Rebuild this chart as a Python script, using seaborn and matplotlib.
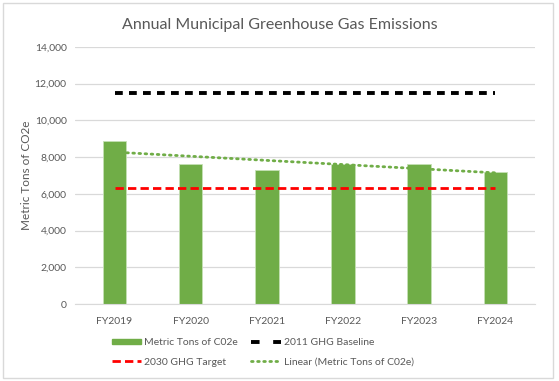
import numpy as np
import pandas as pd
import matplotlib
matplotlib.use("Agg")
import matplotlib.pyplot as plt
import seaborn as sns
from matplotlib.patches import Rectangle
from matplotlib.lines import Line2D
from matplotlib.patches import Patch

# -----------------------------
# Data
# -----------------------------
years = ["FY2019", "FY2020", "FY2021", "FY2022", "FY2023", "FY2024"]
emissions = [8850, 7630, 7300, 7620, 7640, 7200]
baseline_2011 = 11500
target_2030 = 6300

df = pd.DataFrame({"Year": years, "Emissions": emissions})

# -----------------------------
# Plot Settings
# -----------------------------
sns.set_style("white")
plt.rcParams["font.family"] = ["Lato", "DejaVu Sans"]

green = "#70AD47"
grey_txt = "#595959"

fig = plt.figure(figsize=(5.59, 3.81), dpi=100)
ax = fig.add_axes([0.134, 0.202, 0.823, 0.675])

sns.barplot(
    data=df,
    x="Year",
    y="Emissions",
    color=green,
    saturation=1,
    width=0.31,
    edgecolor="#C5E0B4",
    linewidth=0.6,
    ax=ax,
)

pos = np.arange(len(years))

# baseline / target lines
ax.plot(pos, [baseline_2011] * len(years), color="black", lw=2.8,
        linestyle=(0, (2.0, 1.6)))
ax.plot(pos, [target_2030] * len(years), color="#FF0000", lw=2.0,
        linestyle=(0, (3, 1.5)))

# linear trendline
coef = np.polyfit(pos, emissions, 1)
trend = np.polyval(coef, pos)
ax.plot(pos, trend, color=green, lw=2.0, linestyle=(0, (0.6, 1.6)),
        dash_capstyle="round")

# -----------------------------
# Axes formatting
# -----------------------------
ax.set_ylim(0, 14000)
ax.set_xlim(-0.52, len(years) - 0.48)
ax.set_yticks(range(0, 14001, 2000))
ax.set_yticklabels([f"{v:,}" for v in range(0, 14001, 2000)])
ax.yaxis.grid(True, color="#D9D9D9", lw=0.9)
ax.set_axisbelow(True)
for s in ["top", "right", "left"]:
    ax.spines[s].set_visible(False)
ax.spines["bottom"].set_color("#D9D9D9")
ax.tick_params(axis="both", length=0, labelsize=7.5, colors=grey_txt, pad=6)
ax.tick_params(axis="x", pad=9)
ax.set_xlabel("")
ax.set_ylabel("Metric Tons of CO2e", fontsize=8.5, color=grey_txt, labelpad=2)

fig.text(0.5, 0.935, "Annual Municipal Greenhouse Gas Emissions",
         ha="center", va="center", fontsize=11.5, color=grey_txt)

# -----------------------------
# Legend
# -----------------------------
handles = [
    Patch(facecolor=green, edgecolor=green),
    Line2D([0], [0], color="#FF0000", lw=2.0, linestyle=(0, (3, 1.5))),
    Line2D([0], [0], color="black", lw=2.8, linestyle=(0, (2.2, 3.5))),
    Line2D([0], [0], color=green, lw=2.0, linestyle=(0, (0.6, 1.6)),
           dash_capstyle="round"),
]
labels = [
    "Metric Tons of C02e",
    "2030 GHG Target",
    "2011 GHG Baseline",
    "Linear (Metric Tons of C02e)",
]
fig.legend(
    handles, labels,
    ncol=2,
    loc="center",
    bbox_to_anchor=(0.47, 0.075),
    frameon=False,
    fontsize=7.5,
    labelcolor=grey_txt,
    handlelength=2.8,
    handleheight=0.5,
    handletextpad=0.3,
    columnspacing=1.3,
    labelspacing=1.0,
)

# chart border
fig.patches.append(Rectangle((0.006, 0.008), 0.984, 0.984, transform=fig.transFigure,
                             fill=False, edgecolor="#D9D9D9", lw=1.0))

plt.savefig("out.png", dpi=100)
